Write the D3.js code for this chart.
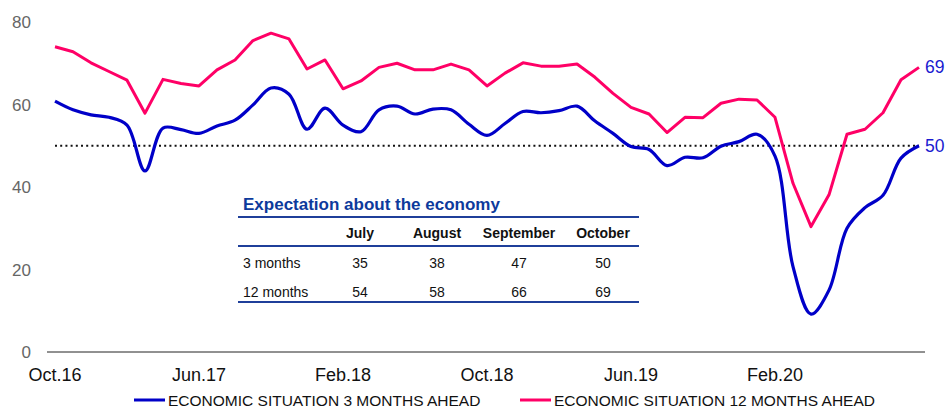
<!DOCTYPE html>
<html>
<head>
<meta charset="utf-8">
<script src="https://cdn.jsdelivr.net/npm/d3@7"></script>
<style>
  body { margin: 0; background: #fff; }
  svg { display: block; font-family: "Liberation Sans", Arial, sans-serif; }
</style>
</head>
<body>
<svg id="chart" width="946" height="408"></svg>
<script>
// monthly series, Oct.16 .. Oct.20
var months = d3.timeMonth.range(new Date(2016, 9, 1), new Date(2020, 10, 1));
var tickLabels = ["Oct.16", "Jun.17", "Feb.18", "Oct.18", "Jun.19", "Feb.20"];
var yTicks = [0, 20, 40, 60, 80];

var ahead3 = [60.8, 58.7, 57.5, 56.9, 55.0, 43.9, 54.3, 53.9, 53.0, 54.8, 56.2, 59.9,
  64.0, 62.5, 54.0, 59.1, 55.0, 53.4, 58.7, 59.6, 57.7, 58.9, 58.7, 55.2,
  52.5, 55.4, 58.3, 58.0, 58.5, 59.6, 56.0, 53.0, 49.8, 49.1, 45.2, 47.2,
  47.1, 49.9, 51.0, 52.8, 47.5, 20.7, 9.2, 15.0, 30.0, 35, 38, 47, 50];
var ahead12 = [74.0, 72.8, 70.1, 68.0, 65.9, 57.9, 66.1, 65.1, 64.5, 68.4, 70.8, 75.5,
  77.3, 75.9, 68.6, 70.8, 63.8, 65.7, 69.0, 70.0, 68.4, 68.4, 69.8, 68.4,
  64.5, 67.6, 70.1, 69.3, 69.3, 69.8, 66.6, 62.7, 59.3, 57.7, 53.2, 56.9,
  56.8, 60.3, 61.3, 61.1, 56.9, 40.9, 30.4, 38.1, 52.8, 54, 58, 66, 69];

// inset table
var tableTitle = "Expectation about the economy";
var tableMonths = ["July", "August", "September", "October"];
var tableRows = ["3 months", "12 months"];
var table3 = [35, 38, 47, 50];
var table12 = [54, 58, 66, 69];

var blue = "#0000c8", pink = "#ff0066", labelBlue = "#1a1ad0", navy = "#0d3a9c";

var svg = d3.select("#chart");
var fmt = function(d) { return d3.timeFormat("%b")(d) + "." + d3.timeFormat("%y")(d); };
var cats = months.map(fmt);

var x = d3.scalePoint().domain(cats).range([55, 919]);
var y = d3.scaleLinear().domain([0, 80]).range([352, 22]);

// y labels
svg.append("g").selectAll("text")
  .data(yTicks).enter().append("text")
    .attr("x", 31)
    .attr("y", function(d) { return y(d) + 6; })
    .attr("text-anchor", "end")
    .attr("font-size", 17)
    .attr("fill", "#666")
    .text(function(d) { return d; });

// zero line
svg.append("line")
  .attr("x1", 47).attr("x2", 925)
  .attr("y1", y(0)).attr("y2", y(0))
  .attr("stroke", "#222").attr("stroke-width", 1);

// x labels
svg.append("g").selectAll("text")
  .data(tickLabels).enter().append("text")
    .attr("x", function(d) { return x(d); })
    .attr("y", 381)
    .attr("text-anchor", "middle")
    .attr("font-size", 18)
    .attr("fill", "#111")
    .text(function(d) { return d; });

// 50 reference line
svg.append("line")
  .attr("x1", x(cats[0])).attr("x2", x(cats[cats.length - 1]))
  .attr("y1", y(50)).attr("y2", y(50))
  .attr("stroke", "#111").attr("stroke-width", 2)
  .attr("stroke-dasharray", "2,3.2");

// lines
var line3 = d3.line()
  .x(function(d, i) { return x(cats[i]); })
  .y(function(d) { return y(d); })
  .curve(d3.curveCatmullRom.alpha(0.5));
var line12 = d3.line()
  .x(function(d, i) { return x(cats[i]); })
  .y(function(d) { return y(d); });

svg.append("path").datum(ahead12)
  .attr("d", line12).attr("fill", "none")
  .attr("stroke", pink).attr("stroke-width", 3).attr("stroke-linejoin", "round");
svg.append("path").datum(ahead3)
  .attr("d", line3).attr("fill", "none")
  .attr("stroke", blue).attr("stroke-width", 3.2).attr("stroke-linejoin", "round");

// end labels
var lastX = x(cats[cats.length - 1]);
[ahead12, ahead3].forEach(function(s) {
  svg.append("text")
    .attr("x", lastX + 6)
    .attr("y", y(s[s.length - 1]) + 6)
    .attr("font-size", 17.5)
    .attr("fill", labelBlue)
    .text(Math.round(s[s.length - 1]));
});

// table
var tbl = svg.append("g");
var colX = [360, 437, 519, 603];
tbl.append("text")
  .attr("x", 243).attr("y", 210)
  .attr("font-size", 17).attr("font-weight", "bold").attr("fill", navy)
  .text(tableTitle);
[217, 246, 302].forEach(function(ly) {
  tbl.append("line")
    .attr("x1", 238).attr("x2", 639)
    .attr("y1", ly).attr("y2", ly)
    .attr("stroke", "#1f3f9a").attr("stroke-width", 2.2);
});
tbl.selectAll(".hdr")
  .data(tableMonths).enter().append("text")
    .attr("x", function(d, i) { return colX[i]; })
    .attr("y", 238)
    .attr("text-anchor", "middle")
    .attr("font-size", 14).attr("font-weight", "bold").attr("fill", "#111")
    .text(function(d) { return d; });
[table3, table12].forEach(function(row, r) {
  var ry = 268 + r * 29;
  tbl.append("text")
    .attr("x", 243).attr("y", ry)
    .attr("font-size", 14).attr("fill", "#111")
    .text(tableRows[r]);
  tbl.append("g").selectAll("text")
    .data(row).enter().append("text")
      .attr("x", function(d, i) { return colX[i]; })
      .attr("y", ry)
      .attr("text-anchor", "middle")
      .attr("font-size", 14).attr("fill", "#111")
      .text(function(d) { return d; });
});

// legend
var legend = [
  { name: "ECONOMIC SITUATION 3 MONTHS AHEAD", color: blue, x: 134 },
  { name: "ECONOMIC SITUATION 12 MONTHS AHEAD", color: pink, x: 520 }
];
legend.forEach(function(l) {
  svg.append("line")
    .attr("x1", l.x).attr("x2", l.x + 31)
    .attr("y1", 400).attr("y2", 400)
    .attr("stroke", l.color).attr("stroke-width", 3);
  svg.append("text")
    .attr("x", l.x + 34).attr("y", 406)
    .attr("font-size", 15.5).attr("fill", "#111")
    .text(l.name);
});
</script>
</body>
</html>
